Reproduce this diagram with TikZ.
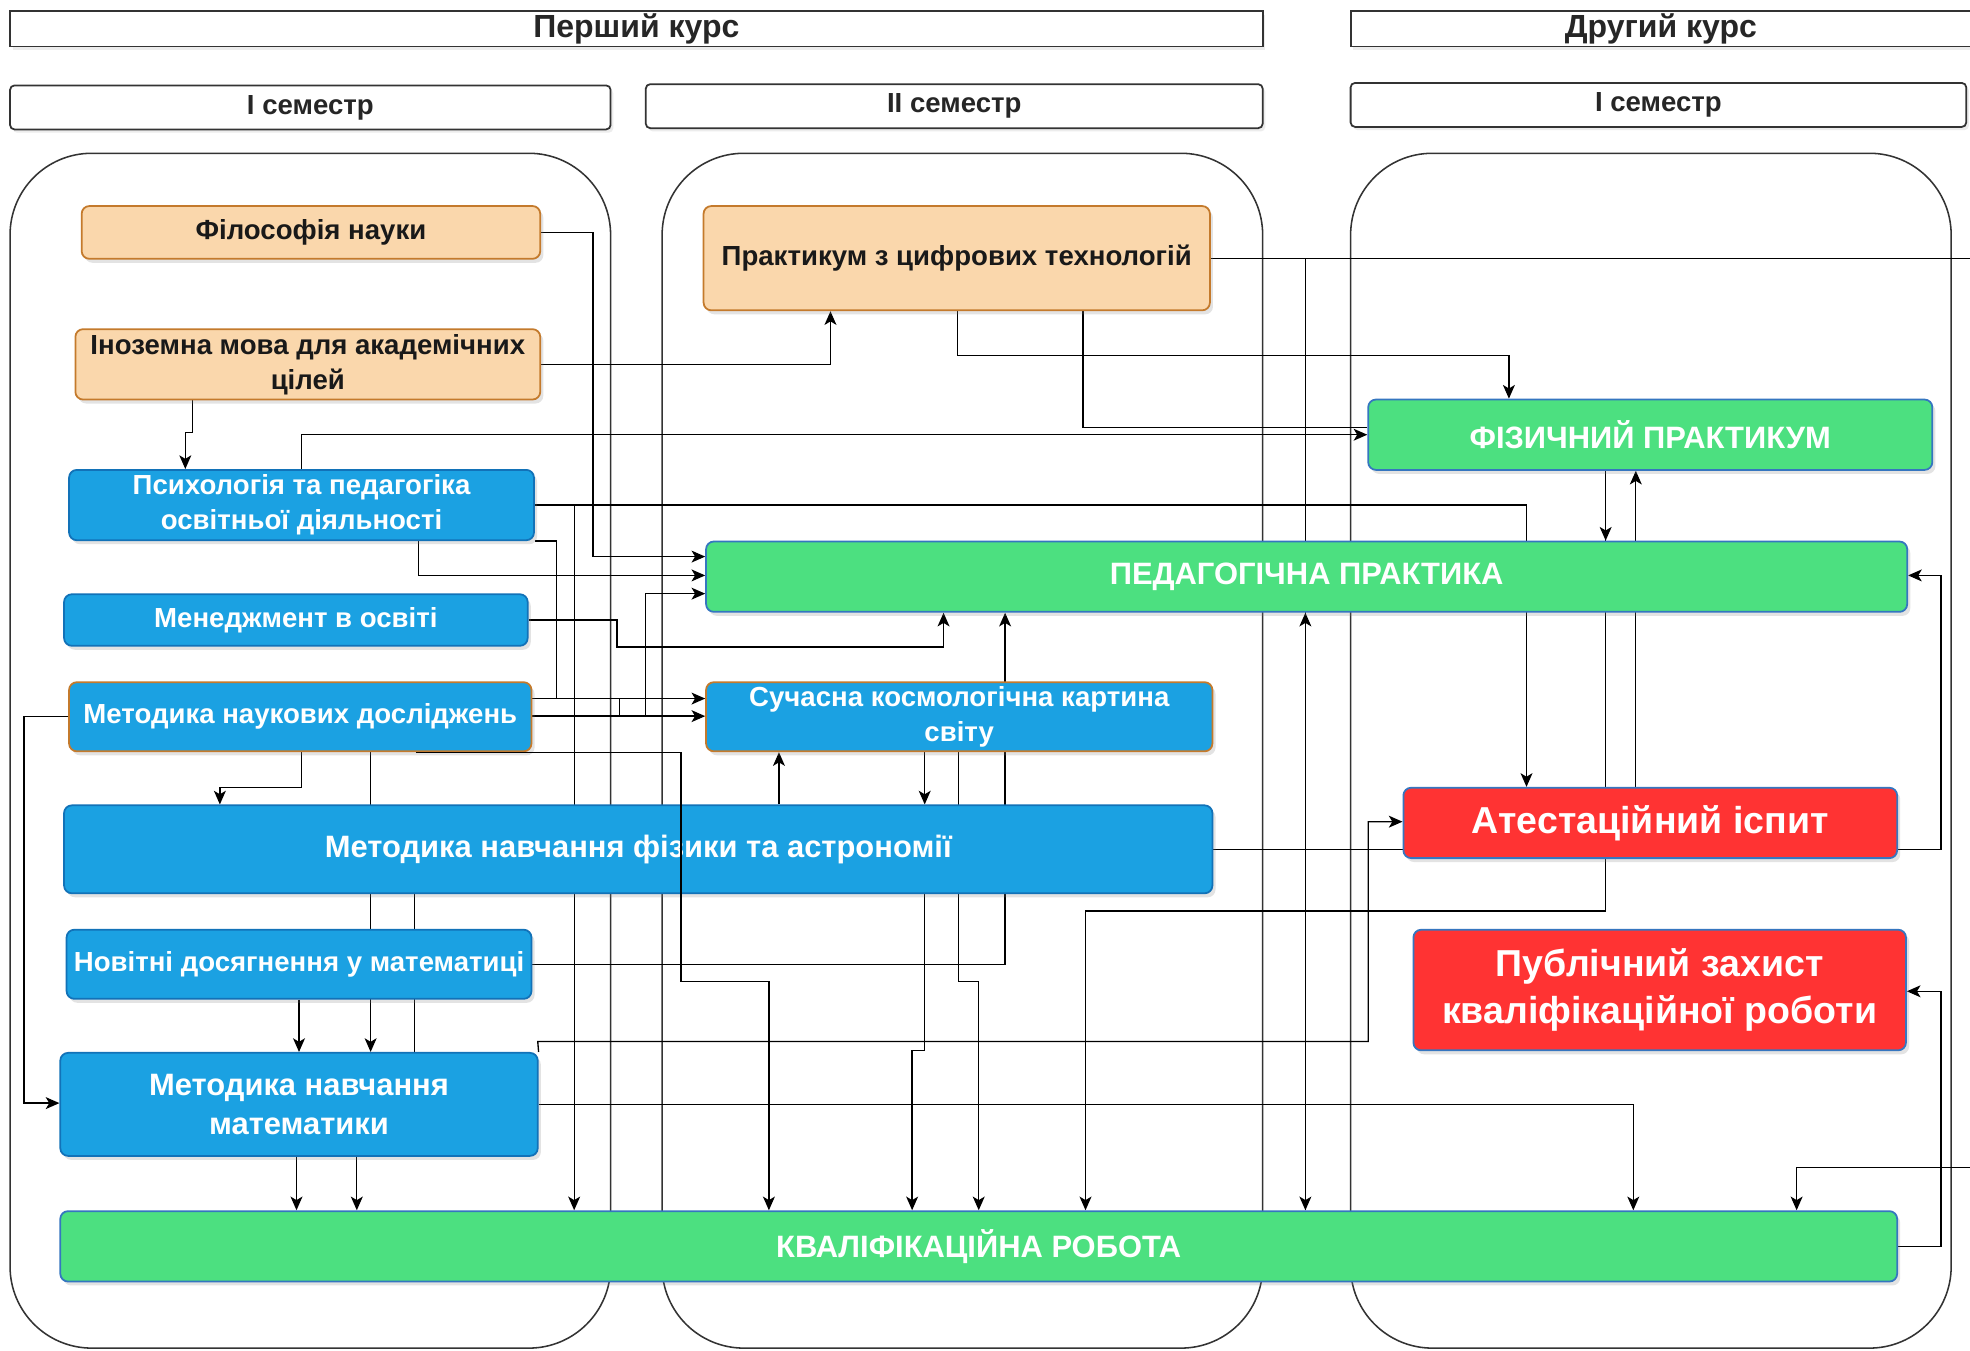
\documentclass[tikz,border=0pt]{standalone}
\usepackage{fontspec}
\setmainfont{Liberation Sans}
\usetikzlibrary{arrows.meta,shadows,backgrounds}
\definecolor{orF}{HTML}{FAD7AC}
\definecolor{orD}{HTML}{C47A2C}
\definecolor{blF}{HTML}{1BA1E2}
\definecolor{blD}{HTML}{1272B8}
\definecolor{grF}{HTML}{4CE080}
\definecolor{grD}{HTML}{3576C0}
\definecolor{rdF}{HTML}{FF3333}
\definecolor{hdD}{HTML}{333333}
\tikzset{
  basebox/.style={rectangle, rounded corners=3.5pt, line width=0.8pt, inner sep=0pt, align=center,
    font=\bfseries\fontsize{12.5}{15.9}\selectfont,
    drop shadow={opacity=0.22, shadow xshift=1.4pt, shadow yshift=-1.8pt}},
  boxo/.style={basebox, fill=orF, draw=orD, text=black!90},
  boxb/.style={basebox, fill=blF, draw=blD, text=white},
  boxg/.style={basebox, fill=grF, draw=grD, text=white, font=\bfseries\fontsize{14}{17}\selectfont},
  boxr/.style={basebox, fill=rdF, draw=grD, text=white, font=\bfseries\fontsize{17}{21}\selectfont},
  hdr/.style={rectangle, draw=hdD, line width=0.8pt, inner sep=0pt, fill=white, text=black!85,
    font=\bfseries\fontsize{14.5}{17}\selectfont,
    drop shadow={opacity=0.15, shadow xshift=1.2pt, shadow yshift=-1.5pt}},
  sem/.style={hdr, rounded corners=2pt, font=\bfseries\fontsize{12.5}{15}\selectfont},
  colbox/.style={draw=black!80, line width=0.7pt, rounded corners=1.3cm},
  con/.style={draw=black, line width=0.6pt},
  arr/.style={con, -{Stealth[length=6.2pt,width=5.4pt,inset=1.6pt]}},
}
% box from corner (x1,y1) to (x2,y2) in picture units
\newcommand{\bx}[7]{%
  \node[#1, minimum width={(#4-#2)*0.02cm}, minimum height={(#5-#3)*0.02cm}]
    (#6) at ({(#2+#4)/2},{(#3+#5)/2}) {#7};}
\begin{document}
\begin{tikzpicture}[x=0.02cm, y=-0.02cm]
\useasboundingbox (0,0) rectangle (1568,1075);

% headers
\bx{hdr}{8}{9}{1005}{37}{hk1}{Перший курс}
\bx{hdr}{1075}{9}{1569}{37}{hk2}{Другий курс}
\bx{sem}{8}{68}{486}{103}{s1}{I семестр}
\bx{sem}{514}{67}{1005}{102}{s2}{II семестр}
\bx{sem}{1075}{66}{1565}{101}{s3}{I семестр}

% boxes
\bx{boxo}{65}{164}{430}{206}{phil}{Філософія науки}
\bx{boxo}{60}{262}{430}{318}{ino}{Іноземна мова для академічних\\цілей}
\bx{boxo}{560}{164}{963}{247}{prak}{Практикум з цифрових технологій}
\bx{boxb}{55}{374}{425}{430}{psy}{Психологія та педагогіка\\освітньої діяльності}
\bx{boxb}{51}{473}{420}{514}{men}{Менеджмент в освіті}
\bx{boxb,draw=orD}{55}{543}{423}{598}{mnd}{Методика наукових досліджень}
\bx{boxb,draw=orD}{562}{543}{965}{598}{suc}{Сучасна космологічна картина\\світу}
\bx{boxb,font=\bfseries\fontsize{14}{17}\selectfont}{51}{641}{965}{711}{mfa}{Методика навчання фізики та астрономії}
\bx{boxb}{53}{740}{423}{795}{nov}{Новітні досягнення у математиці}
\bx{boxb,font=\bfseries\fontsize{14}{17.6}\selectfont}{48}{838}{428}{920}{mnm}{Методика навчання\\математики}
\bx{boxg}{48}{964}{1510}{1020}{kr}{КВАЛІФІКАЦІЙНА РОБОТА}
\bx{boxg}{562}{431}{1518}{487}{pp}{ПЕДАГОГІЧНА ПРАКТИКА}
\bx{boxg}{1089}{318}{1538}{374}{fp}{ФІЗИЧНИЙ ПРАКТИКУМ}
\bx{boxr}{1117}{627}{1510}{683}{att}{Атестаційний іспит}
\bx{boxr}{1125}{740}{1517}{836}{pub}{Публічний захист\\кваліфікаційної роботи}

\begin{pgfonlayer}{background}
\fill[white] (0,0) rectangle (1568,1075);
\begin{scope}
\clip (0,0) rectangle (1568,1075);
% columns
\draw[colbox] (8,122) rectangle (486,1073);
\draw[colbox] (527,122) rectangle (1005,1073);
\draw[colbox] (1075,122) rectangle (1553,1073);
% connectors
\draw[arr] (phil.east) -| (472,443) -- (pp.west |- 0,443);
\draw[arr] (ino.east) -| (prak.south -| 661,0);
\draw[arr] (ino.south -| 153,0) -- (153,344) -- (147.5,344) -- (psy.north -| 147.5,0);
\draw[arr] (psy.north -| 240,0) |- (fp.west |- 0,346);
\draw[arr] (prak.south -| 762,0) |- (1201,283) -- (fp.north -| 1201,0);
\draw[con] (prak.south -| 862,0) |- (fp.west |- 0,340);
\draw[arr] (prak.east) -| (kr.north -| 1039,0);
\draw[arr] (kr.north -| 1039,0) -- (pp.south -| 1039,0);
\draw[arr] (prak.east) -| (1600,929) -| (kr.north -| 1430,0);
\draw[arr] (psy.east) -| (att.north -| 1215,0);
\draw[arr] (psy.east) -| (kr.north -| 457,0);
\draw[arr] (psy.south east) -| (443,556) -- (suc.west |- 0,556);
\draw[arr] (psy.south -| 333,0) |- (pp.west |- 0,458);
\draw[arr] (men.east) -| (491,515) -| (pp.south -| 751,0);
\draw[arr] (mnd.east |- 0,556) -| (493,570) -- (suc.west |- 0,570);
\draw[arr] (mnd.east |- 0,570) -| (514,472.5) -- (pp.west |- 0,472.5);
\draw[arr] (mnd.west) -| (19,878) -- (mnm.west |- 0,878);
\draw[arr] (mnd.south -| 240,0) |- (175,627) -- (mfa.north -| 175,0);
\draw[arr] (mnd.south -| 295,0) -- (mnm.north -| 295,0);
\draw[arr] (mfa.north -| 620,0) -- (suc.south -| 620,0);
\draw[arr] (suc.south -| 736,0) -- (mfa.north -| 736,0);
\draw[arr] (mfa.south -| 736,0) -- (736,836) -| (kr.north -| 726,0);
\draw[arr] (suc.south -| 763,0) -- (763,781) -| (kr.north -| 779,0);
\draw[arr] (nov.east) -| (pp.south -| 800,0);
\draw[arr] (nov.south -| 238,0) -- (mnm.north -| 238,0);
\draw[con] (mfa.south -| 330,0) -- (mnm.north -| 330,0);
\draw[arr] (mnm.south -| 236,0) -- (kr.north -| 236,0);
\draw[arr] (mnm.south -| 284,0) -- (kr.north -| 284,0);
\draw[arr] (mnm.north east) -- (428,829) -| (1089,654) -- (att.west |- 0,654);
\draw[arr] (mnm.east) -| (kr.north -| 1300,0);
\draw[arr] (mfa.east) -| (1545,458) -- (pp.east |- 0,458);
\draw[arr] (fp.south -| 1278,0) -- (pp.north -| 1278,0);
\draw[arr] (fp.south -| 1278,0) -- (1278,725) -| (kr.north -| 864,0);
\draw[arr] (att.north -| 1302,0) -- (fp.south -| 1302,0);
\draw[arr] (kr.east) -| (1545,789) -- (pub.east |- 0,789);
\end{scope}
\end{pgfonlayer}

% connector drawn over the physics box
\draw[arr] (mnd.south -| 331,0) -| (542,781) -| (kr.north -| 612,0);
\end{tikzpicture}
\end{document}
